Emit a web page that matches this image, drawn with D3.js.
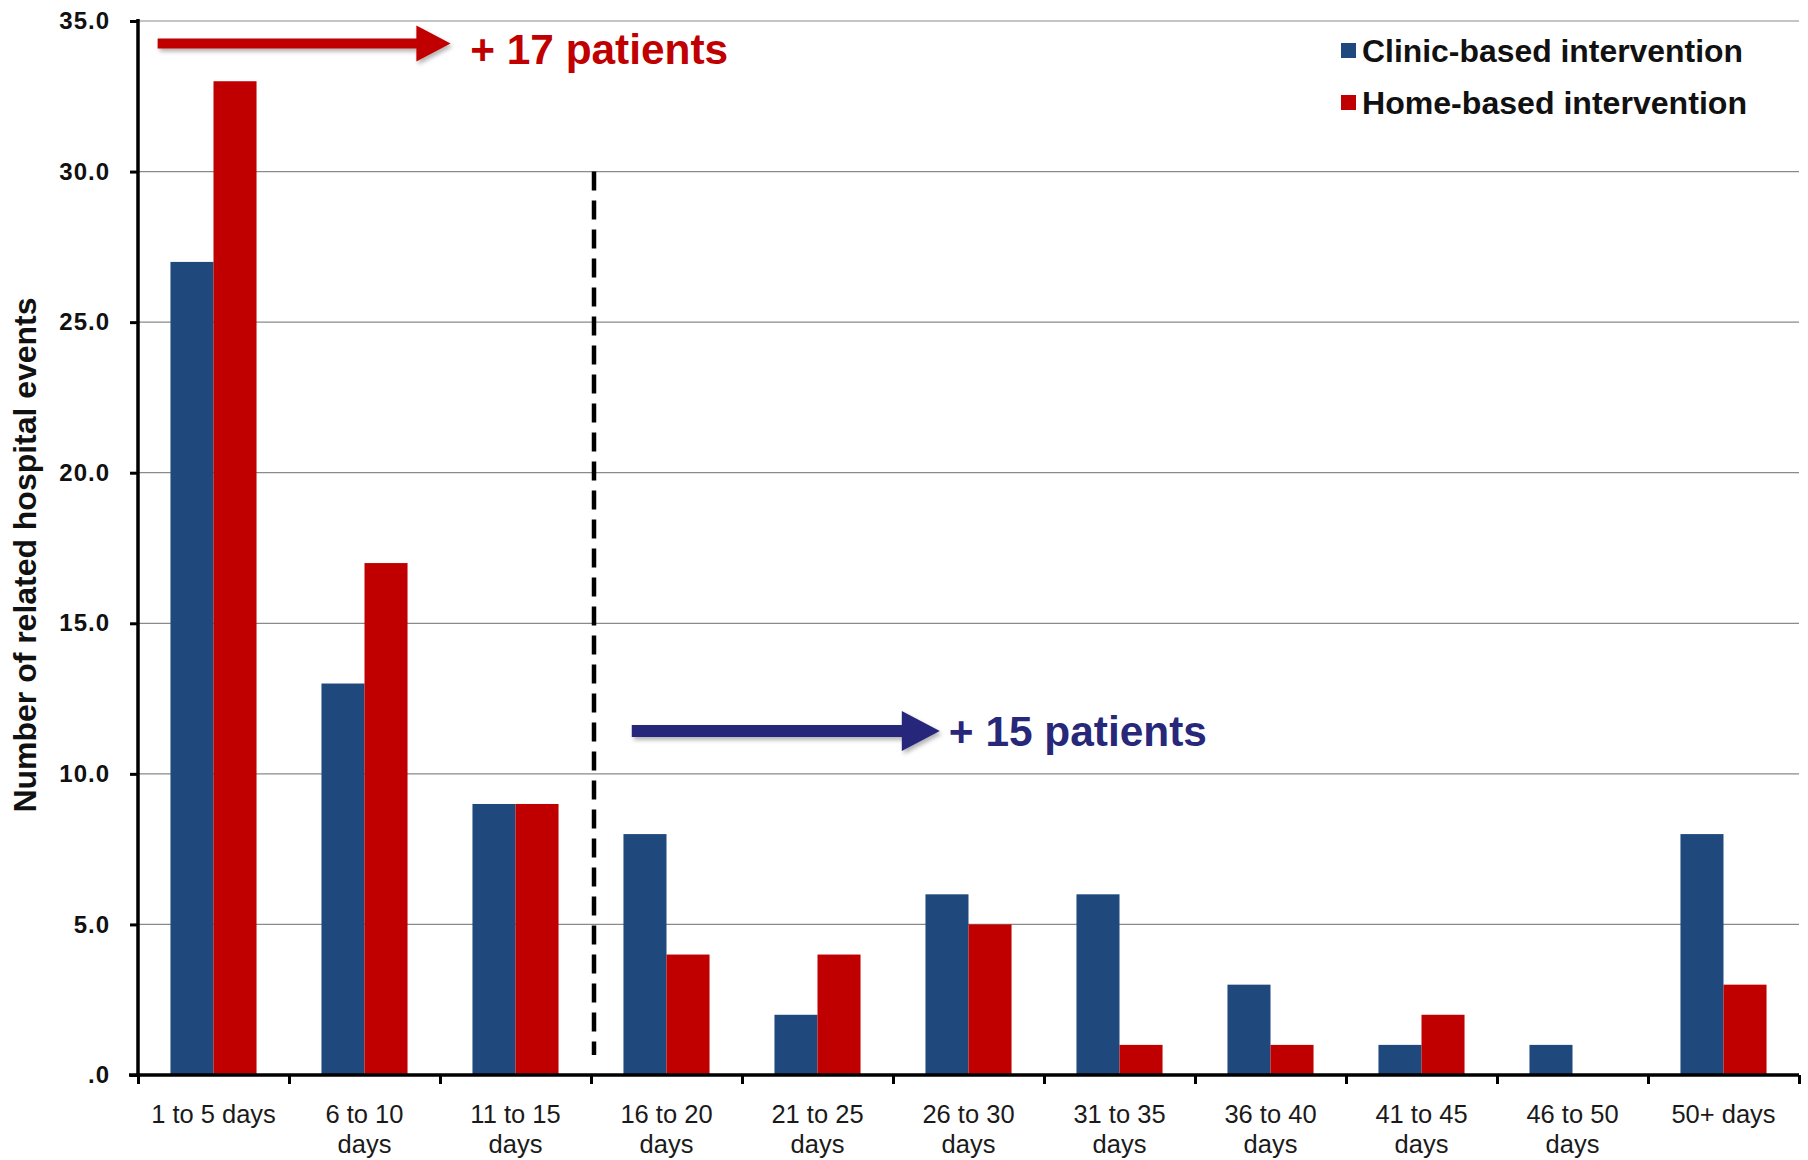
<!DOCTYPE html>
<html><head><meta charset="utf-8">
<script src="https://cdn.jsdelivr.net/npm/d3@7"></script>
<style>
html,body{margin:0;padding:0;background:#fff;}
svg{display:block;font-family:"Liberation Sans",Arial,sans-serif;}
</style></head>
<body><svg id="c" width="1808" height="1160"></svg>
<script>
const categories = [["1 to 5 days"],["6 to 10","days"],["11 to 15","days"],["16 to 20","days"],["21 to 25","days"],["26 to 30","days"],["31 to 35","days"],["36 to 40","days"],["41 to 45","days"],["46 to 50","days"],["50+ days"]];
const seriesNames = ["Clinic-based intervention","Home-based intervention"];
const clinicValues = [27,13,9,8,2,6,6,3,1,1,8];
const homeValues   = [33,17,9,4,4,5,1,1,2,0,3];
const yTicks = [0,5,10,15,20,25,30,35];
const colors = ["#1F497D","#C00000"];
const annotations = [
  {text:"+ 17 patients", color:"#C00000", y:34.25, x0:0.13, x1:2.07, tx:2.2, shaft:10, head:36, dy:20},
  {text:"+ 15 patients", color:"#28287A", y:11.42, x0:3.27, x1:5.31, tx:5.37, shaft:12, head:40, dy:15}
];
const dividerAfter = 3; // between category 3 and 4
const dividerTop = 30;

const svg = d3.select("#c");
const m = {left:138, right:1799, top:21, bottom:1075};
const keys = categories.map((d,i)=>i);
const x = d3.scaleBand().domain(keys).range([m.left,m.right]).padding(0);
const y = d3.scaleLinear().domain([0,35]).range([m.bottom,m.top]);
const xu = d3.scaleLinear().domain([0,categories.length]).range([m.left,m.right]);
const bw = x.bandwidth()*0.285;

// defs shadow
const defs = svg.append("defs");
const f = defs.append("filter").attr("id","sh").attr("x","-10%").attr("y","-30%").attr("width","130%").attr("height","180%");
f.append("feDropShadow").attr("dx",2).attr("dy",3).attr("stdDeviation",2).attr("flood-color","#000").attr("flood-opacity",0.3);

// gridlines
svg.append("g").selectAll("line").data(yTicks.filter(d=>d>0)).join("line")
  .attr("x1",m.left).attr("x2",m.right).attr("y1",d=>y(d)).attr("y2",d=>y(d))
  .attr("stroke","#8a8a8a").attr("stroke-width",1.2);

// bars
const g = svg.append("g");
[clinicValues,homeValues].forEach((vals,s)=>{
  g.append("g").selectAll("rect").data(vals).join("rect")
    .attr("x",(d,i)=>x(i)+x.bandwidth()/2 - bw + s*bw)
    .attr("width",bw)
    .attr("y",d=>y(d))
    .attr("height",d=>y(0)-y(d))
    .attr("fill",colors[s]);
});

// y axis
const ya = d3.axisLeft(y).tickValues(yTicks).tickSize(8).tickPadding(20)
  .tickFormat(d=> d===0 ? ".0" : d3.format(".1f")(d));
const yg = svg.append("g").attr("transform",`translate(${m.left},0)`).call(ya);
yg.select(".domain").attr("stroke","#000").attr("stroke-width",3.5).attr("d",`M0,${m.top-2}V${m.bottom}`);
yg.selectAll(".tick line").attr("stroke","#000").attr("stroke-width",3);
yg.selectAll(".tick text").attr("font-size",24).attr("font-weight","bold").attr("fill","#111")
  .attr("letter-spacing","1").attr("font-family","'Liberation Sans',Arial,sans-serif");

// x axis
const xa = d3.axisBottom(xu).tickValues(d3.range(0,categories.length+1)).tickSize(9).tickFormat("");
const xg = svg.append("g").attr("transform",`translate(0,${m.bottom})`).call(xa);
xg.select(".domain").attr("stroke","#000").attr("stroke-width",3.5).attr("d",`M${m.left-9},0H${m.right}`);
xg.selectAll(".tick line").attr("stroke","#000").attr("stroke-width",3);

// x labels
const xl = svg.append("g").selectAll("text").data(categories).join("text")
  .attr("x",(d,i)=>x(i)+x.bandwidth()/2).attr("y",1123)
  .attr("text-anchor","middle").attr("font-size",25.5).attr("fill","#1a1a1a");
xl.each(function(d){
  const t = d3.select(this);
  d.forEach((line,j)=>t.append("tspan").attr("x",t.attr("x")).attr("dy",j===0?0:30).text(line));
});

// y title
svg.append("text").attr("transform",`translate(36,${(297+813)/2}) rotate(-90)`)
  .attr("text-anchor","middle").attr("font-size",31).attr("font-weight","bold").attr("fill","#111")
  .attr("textLength",515).attr("lengthAdjust","spacingAndGlyphs")
  .text("Number of related hospital events");

// divider
svg.append("line").attr("x1",xu(dividerAfter)+3).attr("x2",xu(dividerAfter)+3)
  .attr("y1",y(dividerTop)).attr("y2",y(0)-20)
  .attr("stroke","#000").attr("stroke-width",4.5).attr("stroke-dasharray","19,10");

// legend
const lg = svg.append("g");
seriesNames.forEach((n,i)=>{
  const yy = 51 + i*52;
  lg.append("rect").attr("x",1341).attr("y",yy-8).attr("width",15).attr("height",15).attr("fill",colors[i]);
  lg.append("text").attr("x",1362).attr("y",yy+11).attr("font-size",31).attr("font-weight","bold")
    .attr("fill","#111").attr("textLength", i===0?381:385).attr("lengthAdjust","spacingAndGlyphs").text(n);
});

// annotations
annotations.forEach(a=>{
  const yy = y(a.y), x0 = xu(a.x0), x1 = xu(a.x1);
  const hl = a.head*0.95, sh = a.shaft/2, hh = a.head/2;
  const pts = [[x0,yy-sh],[x1-hl,yy-sh],[x1-hl,yy-hh],[x1,yy],[x1-hl,yy+hh],[x1-hl,yy+sh],[x0,yy+sh]];
  svg.append("path").attr("d",d3.line()(pts)+"Z").attr("fill",a.color).attr("filter","url(#sh)");
  svg.append("text").attr("x",xu(a.tx)).attr("y",yy+a.dy).attr("font-size",43).attr("font-weight","bold")
    .attr("fill",a.color).attr("textLength",258).attr("lengthAdjust","spacingAndGlyphs").text(a.text);
});
</script></body></html>
